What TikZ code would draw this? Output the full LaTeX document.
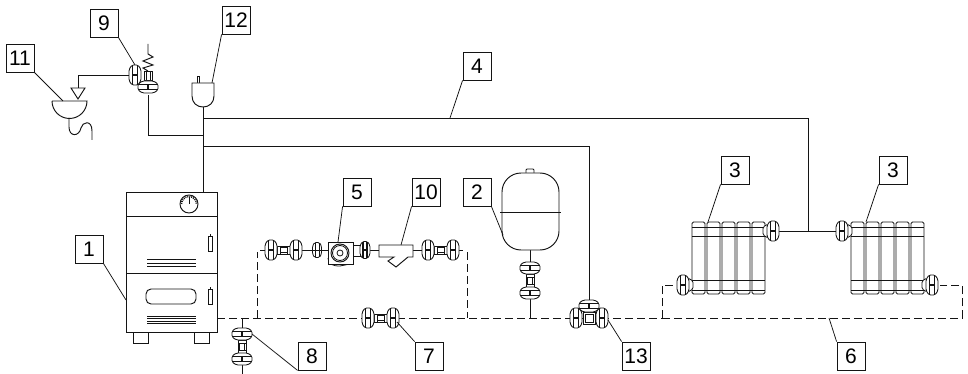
\documentclass[tikz,border=0pt]{standalone}
\usepackage{fontspec}
\setmainfont{Liberation Sans}
\definecolor{ink}{HTML}{141414}
\newcommand{\barrelat}[1]{%
  \begin{scope}[shift={(#1,0)}]
    \draw[line width=0.85pt,draw=ink,fill=white,rounded corners=1.5pt] (-6,-5.5)--(-3,-10)--(3,-10)--(6,-5.5)--(6,5.5)--(3,10)--(-3,10)--(-6,5.5)--cycle;
    \draw[line width=1.15pt,draw=ink] (-2.3,-9.5)--(-2.3,9.5) (2.3,-9.5)--(2.3,9.5) (-2.3,0)--(2.3,0);
  \end{scope}}
\newcommand{\sectionat}[1]{%
  \begin{scope}[shift={(#1,0)}]
    \draw[line width=0.8pt,draw=ink,rounded corners=1.5pt] (0,0) rectangle (13,72);
  \end{scope}}
\tikzset{
  x=1pt,y=-1pt,
  base/.style={line width=0.95pt,draw=ink},
  thin part/.style={line width=0.8pt,draw=ink},
  tag/.style={draw=ink,line width=0.85pt,fill=white,minimum size=28pt,inner sep=0pt,font=\fontsize{21}{21}\selectfont,text=black},
  leader/.style={line width=0.75pt,draw=ink},
  pipe/.style={line width=0.95pt,draw=ink},
  return/.style={line width=0.8pt,draw=ink,dash pattern=on 8pt off 4pt},
  pics/barrel/.style={code={\barrelat{0}}},
  pics/smallbarrel/.style={code={
    \draw[thin part,fill=white,rounded corners=1.5pt] (-4.5,-4)--(-2.5,-7.5)--(2.5,-7.5)--(4.5,-4)--(4.5,4)--(2.5,7.5)--(-2.5,7.5)--(-4.5,4)--cycle;
    \draw[thin part] (-2,-7)--(-2,7) (2,-7)--(2,7) (-4.5,0)--(4.5,0);
  }},
  pics/blackbarrel/.style={code={
    \draw[thin part,fill=white,rounded corners=1.5pt] (-5,-4.5)--(-2.5,-8.5)--(2.5,-8.5)--(5,-4.5)--(5,4.5)--(2.5,8.5)--(-2.5,8.5)--(-5,4.5)--cycle;
    \draw[line width=1.5pt,draw=ink] (-1.8,-8)--(-1.8,8) (1.8,-8)--(1.8,8) (-1.8,0)--(1.8,0);
  }},
  pics/dumbbell/.style={code={
    \draw[thin part,fill=white] (6,-4) rectangle (19,4);
    \draw[thin part] (9,-4)--(9,4) (16,-4)--(16,4) (9,-2.5)--(16,-2.5) (9,2.5)--(16,2.5);
    \barrelat{0}
    \barrelat{25}
  }},
  pics/radvalve/.style={code={
    \draw[thin part,fill=white,rounded corners=1.5pt] (5,-7)--(10,-4)--(10,4)--(5,7)--cycle;
    \barrelat{0}
  }},
  pics/radiator/.style={code={
    \foreach \k in {0,15,30,45,60} {\sectionat{\k}}
    \draw[line width=0.9pt,draw=ink] (0,5)--(73,5) (0,14)--(73,14) (0,58)--(73,58) (0,68)--(73,68);
  }}
}
\begin{document}
\begin{tikzpicture}
\useasboundingbox (0,0) rectangle (968,374);
% named points
\coordinate (vesselfoot) at (203,107);
\coordinate (feed) at (203,192);
\coordinate (branchA) at (203,118);
\coordinate (branchB) at (203,135);
\coordinate (branchC) at (203,146);
\coordinate (cornerA) at (808,118);
\coordinate (teeA) at (808,231);
\coordinate (cornerB) at (148,135);
\coordinate (cornerC) at (589,146);
\coordinate (radL) at (773,231);
\coordinate (radR) at (842,231);
\coordinate (safety) at (148,95);
\coordinate (sideport) at (130,75);
\coordinate (drainbend) at (78,75);
\coordinate (drainin) at (78,88);
\coordinate (tankfoot) at (530,250);
\coordinate (tankjoin) at (530,318);
\coordinate (t13) at (589,300);

% solid pipes
\draw[pipe] (vesselfoot)--(feed);
\draw[pipe] (branchA)--(cornerA)--(teeA);
\draw[pipe] (branchB)--(cornerB)--(safety);
\draw[pipe] (branchC)--(cornerC)--(t13);
\draw[pipe] (radL)--(radR);
\draw[pipe] (sideport)--(drainbend)--(drainin);
\draw[pipe] (tankfoot)--(tankjoin);
\draw[pipe] (260,250)--(463,250);
\draw[pipe] (242,318)--(242,374);

% return (dashed)
\draw[return] (217,318)--(662,318);
\draw[return] (662,318)--(962,318)--(962,285)--(940,285);
\draw[return] (662,318)--(662,285)--(677,285);
\draw[return] (257,318)--(257,252);
\draw[return] (467,252)--(467,318);

% boiler
\draw[base,fill=white] (133,332) rectangle (148,343);
\draw[base,fill=white] (194,332) rectangle (209,343);
\draw[base,fill=white] (126,192) rectangle (217,332);
\draw[base] (126,216)--(217,216) (126,273)--(217,273);
\draw[base,fill=white] (189,204) circle (9);
\draw[line width=1.6pt,draw=ink,dash pattern=on 1pt off 1pt] (181.5,204) arc (180:360:7.5);
\draw[thin part] (189,204)--(189,196.5);
\draw[thin part] (208.5,236) rectangle (212,251) (210,236)--(210,234);
\draw[thin part] (208.5,289) rectangle (212,304) (210,289)--(210,287);
\draw[base,rounded corners=5pt] (146,289) rectangle (196,304);
\foreach \yy in {259.5,263,266} {\draw[thin part] (147,\yy)--(196,\yy);}
\foreach \yy in {316.5,318.5,321,323} {\draw[thin part] (147,\yy)--(196,\yy);}

% expansion vessel 12
\draw[thin part] (197,83)--(197,76.5)--(199.5,76.5)--(199.5,83);
\draw[base,fill=white] (192,83)--(214,83)--(214,96) .. controls (214,103) and (209,107) .. (203,107) .. controls (197,107) and (192,103) .. (192,96)--cycle;

% drain funnel 11
\draw[base] (52,101)--(87,101) arc (0:180:17.5);
\draw[base] (71,88)--(85,88)--(78,99)--cycle;
\draw[base] (69,118)--(69,127) .. controls (69,137) and (79,137) .. (81,128) .. controls (82,122) and (92,119) .. (92,131)--(92,140);

% safety group 9
\draw[pipe] (148,44)--(148,54)--(153,57)--(143,61)--(153,65)--(143,68)--(148,71);
\draw[thin part,fill=white] (144,71) rectangle (152,80);
\draw[thin part] (146,71)--(146,80) (150,71)--(150,80);
\pic[rotate=90] at (148,87) {barrel};
\pic at (135,75) {barrel};

% pump line
\pic at (271,250) {dumbbell};
\pic at (317,250) {smallbarrel};
\draw[thin part] (328,258) .. controls (328,264) and (332,266) .. (340,266)--(350,264);
\draw[base,fill=white] (328,242) rectangle (353,264);
\draw[base,fill=white] (340,253) circle (9);
\draw[thin part] (340,253) circle (7.5);
\draw[thin part] (340,253) circle (3);
\draw[thin part,fill=white] (353,245) rectangle (360,256);
\pic at (365,250) {blackbarrel};
\draw[base,fill=white] (379,245)--(413,245)--(413,257)--(408,257)--(396,267)--(388,261)--(394,257)--(379,257)--cycle;
\pic at (428,250) {dumbbell};

% expansion tank 2
\draw[base,fill=white,rounded corners=1pt] (526,173)--(526,169)--(534,169)--(534,173);
\draw[base,fill=white,rounded corners=19pt] (502,173) rectangle (559,250);
\draw[base] (500,212)--(561,212);
\pic[rotate=-90] at (530,268) {dumbbell};

% valves on return
\pic at (368,318) {dumbbell};
\pic[rotate=-90] at (242,334) {dumbbell};

% three way 13
\draw[thin part,fill=white] (583,312) rectangle (595,324);
\draw[thin part] (585,314) rectangle (593,322);
\pic at (576,318) {barrel};
\pic at (602,318) {barrel};
\pic[rotate=90] at (589,306) {barrel};

% radiators
\pic at (692,222) {radiator};
\pic at (851,222) {radiator};
\pic[xscale=-1] at (773,231) {radvalve};
\pic at (842,231) {radvalve};
\pic at (683,285) {radvalve};
\pic[xscale=-1] at (932,285) {radvalve};

% tags
\node[tag] (t9) at (104,23) {9};
\node[tag] (t11) at (20,58) {11};
\node[tag] (t12) at (236,20) {12};
\node[tag] (t4) at (477,66) {4};
\node[tag] (t5) at (357,192) {5};
\node[tag] (t10) at (426,192) {10};
\node[tag] (t2) at (477,192) {2};
\node[tag] (t3a) at (735,170) {3};
\node[tag] (t3b) at (893,170) {3};
\node[tag] (t1) at (89,249) {1};
\node[tag] (t8) at (312,356) {8};
\node[tag] (t7) at (429,356) {7};
\node[tag] (t13) at (636,356) {13};
\node[tag] (t6) at (851,356) {6};

% leader ends
\coordinate (e9) at (135,65);
\coordinate (e11) at (63,101);
\coordinate (e12) at (212,83);
\coordinate (e4) at (450,118);
\coordinate (e5) at (338,242);
\coordinate (e10) at (401,245);
\coordinate (e2) at (503,235);
\coordinate (e3a) at (708,222);
\coordinate (e3b) at (866,222);
\coordinate (e1) at (126,300);
\coordinate (e8) at (252,334);
\coordinate (e7) at (397,322);
\coordinate (e13) at (608,320);
\coordinate (e6) at (829,318);

\draw[leader] (t9.south east)--(e9);
\draw[leader] (t11.south east)--(e11);
\draw[leader] (t12.south west)--(e12);
\draw[leader] (t4.south west)--(e4);
\draw[leader] (t5.south west)--(e5);
\draw[leader] (t10.south west)--(e10);
\draw[leader] (t2.south east)--(e2);
\draw[leader] (t3a.south west)--(e3a);
\draw[leader] (t3b.south west)--(e3b);
\draw[leader] (t1.south east)--(e1);
\draw[leader] (t8.south west)--(e8);
\draw[leader] (t7.north west)--(e7);
\draw[leader] (t13.north west)--(e13);
\draw[leader] (t6.north west)--(e6);
\end{tikzpicture}
\end{document}
